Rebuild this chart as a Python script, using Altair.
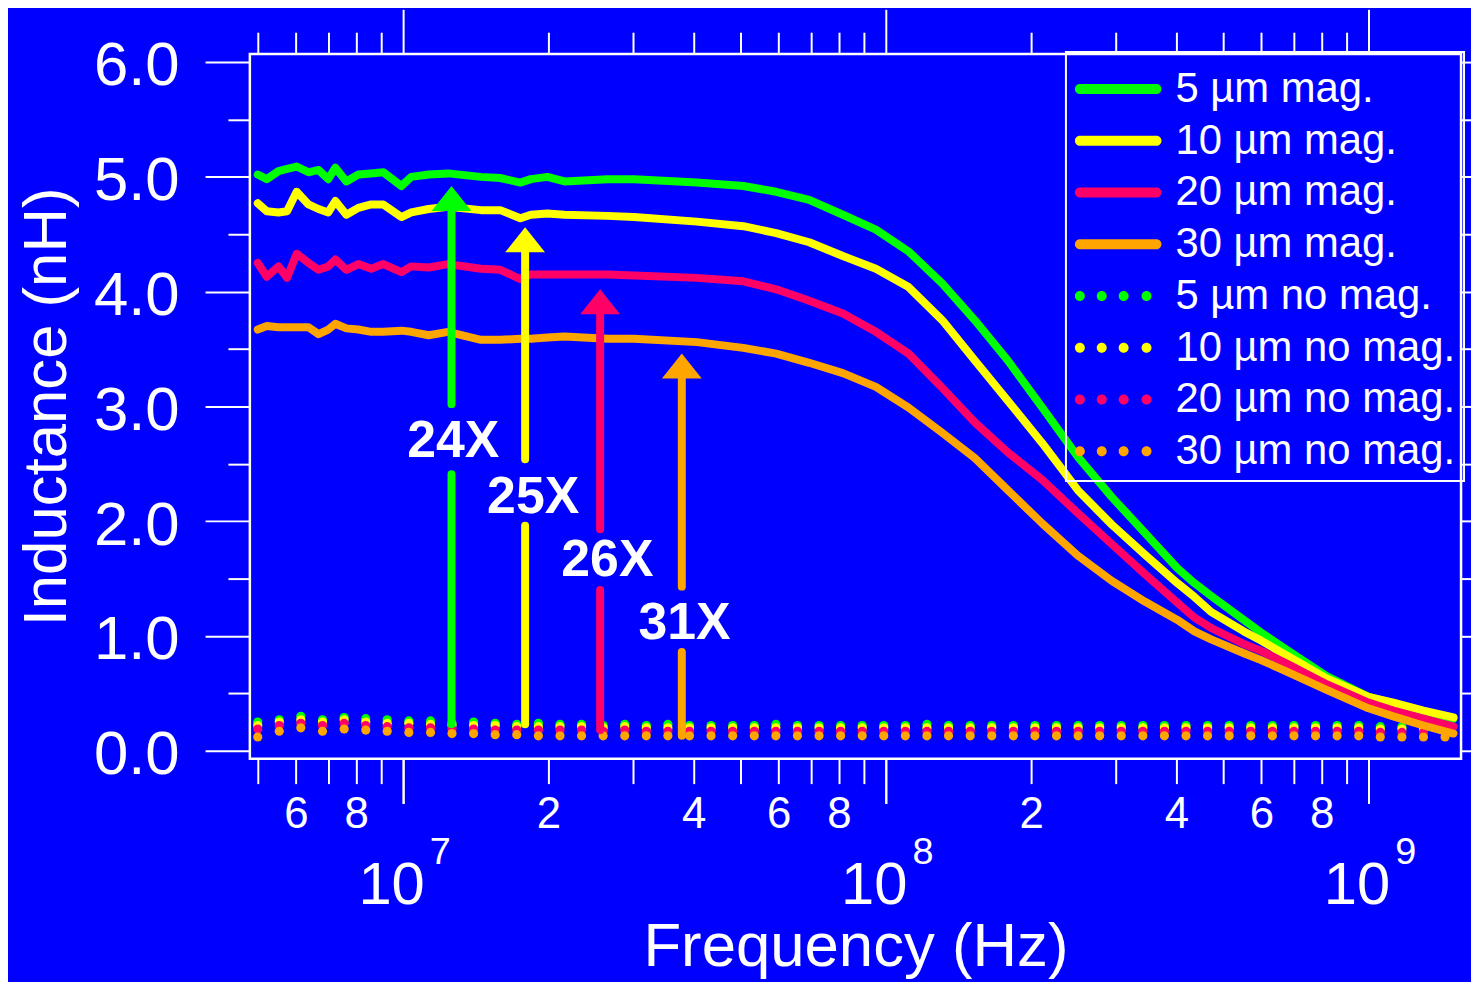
import altair as alt
import pandas as pd

FONT = "Liberation Sans"
BG = "#0000FF"
GREEN, YELLOW, RED, ORANGE = "#00FF00", "#FFFF00", "#FF0066", "#FFA500"
COLORS = [GREEN, YELLOW, RED, ORANGE]

# ---------------- data: magnetic (solid lines), frequency in MHz ----------------
freq_mag = [5.0, 5.22, 5.52, 5.75, 6.02, 6.37, 6.68, 7.0, 7.24, 7.63,
            8.08, 8.59, 9.1, 9.92, 10.4, 11.3, 12.4, 14.5, 15.9, 17.5,
            18.4, 19.9, 21.6, 26.5, 30.1, 40.6, 50.7, 59.3, 69.4, 81.5,
            95.4, 111.5, 131, 153, 179, 211, 250, 294, 344, 402,
            436, 472, 552, 599, 677, 819, 1000, 1126, 1300, 1500]
L_5_mag = [5.02, 4.98, 5.05, 5.07, 5.09, 5.04, 5.06, 4.98, 5.08, 4.96,
           5.02, 5.03, 5.04, 4.92, 5.00, 5.02, 5.03, 5.00, 4.99, 4.95,
           4.98, 5.00, 4.96, 4.98, 4.98, 4.95, 4.92, 4.87, 4.80, 4.67,
           4.54, 4.35, 4.07, 3.75, 3.40, 2.99, 2.56, 2.21, 1.90, 1.59,
           1.46, 1.35, 1.14, 1.03, 0.88, 0.65, 0.47, 0.41, 0.34, 0.28]
L_10_mag = [4.77, 4.70, 4.69, 4.70, 4.87, 4.76, 4.72, 4.69, 4.79, 4.67,
            4.73, 4.76, 4.76, 4.65, 4.69, 4.72, 4.74, 4.71, 4.71, 4.64,
            4.67, 4.68, 4.67, 4.66, 4.65, 4.61, 4.57, 4.51, 4.43, 4.31,
            4.20, 4.04, 3.75, 3.40, 3.05, 2.68, 2.27, 1.97, 1.71, 1.46,
            1.34, 1.21, 1.04, 0.96, 0.83, 0.63, 0.47, 0.42, 0.35, 0.29]
L_20_mag = [4.25, 4.13, 4.22, 4.12, 4.33, 4.25, 4.19, 4.22, 4.28, 4.19,
            4.24, 4.20, 4.24, 4.17, 4.22, 4.21, 4.24, 4.20, 4.19, 4.11,
            4.15, 4.15, 4.15, 4.15, 4.14, 4.12, 4.09, 4.02, 3.92, 3.81,
            3.65, 3.46, 3.16, 2.86, 2.60, 2.36, 2.07, 1.80, 1.54, 1.29,
            1.16, 1.07, 0.93, 0.87, 0.76, 0.58, 0.42, 0.35, 0.28, 0.21]
L_30_mag = [3.67, 3.70, 3.69, 3.69, 3.69, 3.69, 3.63, 3.67, 3.72, 3.68,
            3.67, 3.65, 3.65, 3.66, 3.65, 3.62, 3.65, 3.58, 3.58, 3.59,
            3.59, 3.60, 3.61, 3.59, 3.59, 3.56, 3.51, 3.46, 3.38, 3.29,
            3.17, 2.99, 2.77, 2.55, 2.27, 1.98, 1.70, 1.48, 1.30, 1.14,
            1.04, 0.97, 0.85, 0.79, 0.69, 0.53, 0.37, 0.30, 0.22, 0.15]

# ---------------- data: no magnetic (dotted), frequency in MHz ----------------
freq_nomag = [5.00, 5.54, 6.14, 6.81, 7.55, 8.37, 9.27, 10.28, 11.40, 12.63,
              14.00, 15.52, 17.20, 19.07, 21.14, 23.43, 25.97, 28.79, 31.91, 35.37,
              39.21, 43.46, 48.18, 53.41, 59.20, 65.62, 72.74, 80.63, 89.37, 99.05,
              109.8, 121.7, 134.9, 149.6, 165.8, 183.8, 203.7, 225.8, 250.3, 277.4,
              307.5, 340.9, 377.8, 418.8, 464.2, 514.6, 570.4, 632.3, 700.9, 776.9,
              861.1, 954.6, 1058, 1173, 1300, 1441]
L_5_nomag = [0.25, 0.27, 0.30, 0.27, 0.29, 0.28, 0.27, 0.26, 0.26, 0.24,
             0.25, 0.24, 0.23, 0.24, 0.23, 0.23, 0.22, 0.23, 0.22, 0.23,
             0.22, 0.22, 0.22, 0.22, 0.23, 0.22, 0.22, 0.22, 0.22, 0.22,
             0.22, 0.23, 0.22, 0.22, 0.22, 0.22, 0.22, 0.22, 0.22, 0.22,
             0.22, 0.22, 0.22, 0.22, 0.22, 0.22, 0.22, 0.22, 0.22, 0.22,
             0.22, 0.22, 0.21, 0.21, 0.21, 0.21]
L_10_nomag = [0.22, 0.25, 0.27, 0.25, 0.27, 0.25, 0.24, 0.24, 0.23, 0.22,
              0.22, 0.22, 0.21, 0.21, 0.21, 0.21, 0.20, 0.21, 0.20, 0.20,
              0.20, 0.20, 0.20, 0.20, 0.20, 0.20, 0.20, 0.20, 0.20, 0.20,
              0.20, 0.20, 0.20, 0.20, 0.20, 0.20, 0.20, 0.20, 0.20, 0.20,
              0.20, 0.20, 0.20, 0.20, 0.20, 0.20, 0.20, 0.20, 0.20, 0.20,
              0.20, 0.20, 0.19, 0.19, 0.19, 0.19]
L_20_nomag = [0.19, 0.22, 0.24, 0.22, 0.24, 0.22, 0.21, 0.20, 0.20, 0.19,
              0.19, 0.18, 0.18, 0.18, 0.18, 0.18, 0.17, 0.18, 0.17, 0.17,
              0.17, 0.17, 0.17, 0.17, 0.17, 0.17, 0.17, 0.17, 0.17, 0.17,
              0.17, 0.17, 0.17, 0.17, 0.17, 0.17, 0.17, 0.17, 0.17, 0.17,
              0.17, 0.17, 0.17, 0.17, 0.17, 0.17, 0.17, 0.17, 0.17, 0.17,
              0.17, 0.17, 0.16, 0.16, 0.16, 0.16]
L_30_nomag = [0.12, 0.17, 0.20, 0.17, 0.19, 0.18, 0.17, 0.16, 0.16, 0.15,
              0.15, 0.14, 0.14, 0.13, 0.13, 0.13, 0.13, 0.13, 0.13, 0.13,
              0.13, 0.13, 0.13, 0.13, 0.13, 0.13, 0.13, 0.13, 0.13, 0.13,
              0.13, 0.13, 0.13, 0.13, 0.13, 0.13, 0.13, 0.13, 0.13, 0.13,
              0.13, 0.13, 0.13, 0.13, 0.13, 0.13, 0.13, 0.13, 0.13, 0.13,
              0.13, 0.13, 0.12, 0.12, 0.12, 0.12]

mag_labels = ["5 µm mag.", "10 µm mag.", "20 µm mag.", "30 µm mag."]
nomag_labels = ["5 µm no mag.", "10 µm no mag.", "20 µm no mag.", "30 µm no mag."]

# ---------------- arrows with enhancement factors ----------------
arrow_text = ["24X", "25X", "26X", "31X"]
arrow_freq = [12.6, 17.9, 25.6, 37.8]
arrow_tip = [4.92, 4.56, 4.02, 3.46]
shaft_top = [4.77, 4.41, 3.87, 3.31]
gap_top = [3.02, 2.54, 1.93, 1.43]
gap_bottom = [2.41, 1.96, 1.40, 0.86]
arrow_base = [0.23, 0.23, 0.18, 0.13]
text_freq = [12.7, 18.6, 26.5, 38.3]
text_L = [2.72, 2.24, 1.69, 1.14]

# axis tick positions (MHz) and inductance ticks
minor_f = [5, 6, 7, 8, 9, 20, 30, 40, 50, 60, 70, 80, 90,
           200, 300, 400, 500, 600, 700, 800, 900]
decade_f = [10, 100, 1000]
major_L = [0, 1, 2, 3, 4, 5, 6]
minor_L = [0.5, 1.5, 2.5, 3.5, 4.5, 5.5]
all_L = [0, 0.5, 1, 1.5, 2, 2.5, 3, 3.5, 4, 4.5, 5, 5.5, 6]

# ---------------- tables ----------------
mag_rows = []
for lab, col, vals in zip(mag_labels, COLORS, [L_5_mag, L_10_mag, L_20_mag, L_30_mag]):
    for f, v in zip(freq_mag, vals):
        mag_rows.append({"f": f, "L": v, "label": lab, "color": col})
mag_df = pd.DataFrame(mag_rows)

nomag_rows = []
for lab, col, vals in zip(nomag_labels, COLORS, [L_5_nomag, L_10_nomag, L_20_nomag, L_30_nomag]):
    for f, v in zip(freq_nomag, vals):
        nomag_rows.append({"f": f, "L": v, "label": lab, "color": col})
nomag_df = pd.DataFrame(nomag_rows)

shaft_rows = []
for i in range(4):
    shaft_rows.append({"f": arrow_freq[i], "y1": shaft_top[i], "y2": gap_top[i], "color": COLORS[i]})
    shaft_rows.append({"f": arrow_freq[i], "y1": gap_bottom[i], "y2": arrow_base[i], "color": COLORS[i]})
shaft_df = pd.DataFrame(shaft_rows)

arrow_df = pd.DataFrame({"f": arrow_freq, "tip": arrow_tip, "color": COLORS,
                         "tf": text_freq, "tL": text_L, "txt": arrow_text})

# legend symbols (custom shapes; unit = 28 px for symbolSize 3136)
all_labels = mag_labels + nomag_labels
all_colors = COLORS + COLORS
BAR = "M-0.82,-0.18L1.927,-0.18A0.18,0.18,0,0,1,1.927,0.18L-0.82,0.18A0.18,0.18,0,0,1,-0.82,-0.18Z"


def dots_path(centers, r=0.179):
    parts = []
    for c in centers:
        parts.append(f"M{c - r:.3f},0A{r},{r},0,1,0,{c + r:.3f},0A{r},{r},0,1,0,{c - r:.3f},0Z")
    return "".join(parts)


DOTS = dots_path([-0.821, -0.036, 0.75, 1.571])
all_shapes = [BAR] * 4 + [DOTS] * 4
legend_df = pd.DataFrame({"f": [1.0] * 8, "L": [3.0] * 8, "label": all_labels})

HEAD = "M0,0L1,1.25L-1,1.25Z"

# ---------------- scales & axes ----------------
x_scale = alt.Scale(type="log", domain=[4.8147, 1555.2], nice=False)
y_scale = alt.Scale(domain=[-0.0694, 6.0694], nice=False, zero=False)

common = dict(grid=False, domain=False, labelOverlap=False, labelFlush=False)

ax_bottom_minor = alt.Axis(orient="bottom", values=minor_f, tickSize=25,
                           labelExpr="indexof([6,8,20,40,60,80,200,400,600,800], datum.value) >= 0 ? substring(toString(datum.value),0,1) : ''",
                           labelFontSize=44, labelPadding=9, title=None, **common)
ax_bottom_major = alt.Axis(orient="bottom", values=decade_f, tickSize=45, labelExpr="'10'",
                           labelFontSize=60, labelPadding=53, labelOffset=-12,
                           title="Frequency (Hz)", titleFontSize=62, titleX=608.5, titleY=208,
                           titleBaseline="alphabetic", titleAlign="center", **common)
ax_bottom_sup = alt.Axis(orient="bottom", values=decade_f, tickSize=45,
                         labelExpr="datum.value == 10 ? '7' : datum.value == 100 ? '8' : '9'",
                         labelFontSize=38, labelPadding=30, labelOffset=37, title=None, **common)
ax_top_minor = alt.Axis(orient="top", values=minor_f, tickSize=22, labels=False, title=None, **common)
ax_top_major = alt.Axis(orient="top", values=decade_f, tickSize=45, labels=False, title=None, **common)

ax_left_major = alt.Axis(orient="left", values=major_L, tickSize=45, format=".1f",
                         labelFontSize=62, labelPadding=26, labelOffset=4,
                         title="Inductance (nH)", titleFontSize=62, titleX=-185, titleY=354,
                         titleAngle=-90, titleBaseline="alphabetic", titleAlign="center", **common)
ax_left_minor = alt.Axis(orient="left", values=minor_L, tickSize=22, labels=False, title=None, **common)
ax_right = alt.Axis(orient="right", values=all_L, tickSize=12, labels=False, title=None, **common)

# ---------------- layers ----------------
dots = alt.Chart(nomag_df).mark_circle(size=85, opacity=1).encode(
    x=alt.X("f:Q", scale=x_scale, axis=ax_bottom_minor),
    y=alt.Y("L:Q", scale=y_scale, axis=ax_left_major),
    color=alt.Color("color:N", scale=None),
)

lines = alt.Chart(mag_df).mark_line(strokeWidth=8, strokeCap="round", strokeJoin="round").encode(
    x=alt.X("f:Q", scale=x_scale, axis=ax_bottom_major),
    y=alt.Y("L:Q", scale=y_scale, axis=ax_left_minor),
    color=alt.Color("color:N", scale=None),
    detail="label:N",
)

shafts = alt.Chart(shaft_df).mark_rule(strokeWidth=8, strokeCap="round").encode(
    x=alt.X("f:Q", scale=x_scale, axis=ax_top_minor),
    y=alt.Y("y1:Q", scale=y_scale, axis=ax_right),
    y2="y2:Q",
    color=alt.Color("color:N", scale=None),
)

heads = alt.Chart(arrow_df).mark_point(shape=HEAD, size=1600, filled=True, opacity=1, strokeWidth=0).encode(
    x=alt.X("f:Q", scale=x_scale, axis=ax_top_major),
    y=alt.Y("tip:Q", scale=y_scale, axis=None),
    color=alt.Color("color:N", scale=None),
)

texts = alt.Chart(arrow_df).mark_text(fontSize=52, fontWeight="bold", font=FONT, color="white", dy=3).encode(
    x=alt.X("tf:Q", scale=x_scale, axis=ax_bottom_sup),
    y=alt.Y("tL:Q", scale=y_scale, axis=None),
    text="txt:N",
)

leg = alt.Legend(orient="none", legendX=820, legendY=-2, title=None, direction="vertical",
                 labelFontSize=42, labelColor="white", labelFont=FONT, labelLimit=600,
                 symbolSize=3136, symbolStrokeWidth=0, symbolOpacity=1,
                 labelOffset=45, rowPadding=3, padding=9, strokeColor="white")

legend_layer = alt.Chart(legend_df).mark_point(size=3136, filled=True, opacity=1, strokeWidth=0, clip=True).encode(
    x=alt.X("f:Q", scale=x_scale, axis=None),
    y=alt.Y("L:Q", scale=y_scale, axis=None),
    color=alt.Color("label:N", scale=alt.Scale(domain=all_labels, range=all_colors), legend=leg),
    shape=alt.Shape("label:N", scale=alt.Scale(domain=all_labels, range=all_shapes), legend=leg),
)

chart = (
    alt.layer(dots, lines, shafts, heads, texts, legend_layer)
    .resolve_axis(x="independent", y="independent")
    .resolve_scale(color="independent", shape="independent")
    .properties(
        width=1217, height=708,
        autosize=alt.AutoSizeParams(type="none"),
        padding={"left": 243, "top": 44, "right": 10, "bottom": 222},
        background=BG,
    )
    .configure_view(stroke="white", strokeWidth=2.5)
    .configure_axis(tickColor="white", tickWidth=2, labelColor="white", titleColor="white",
                    labelFont=FONT, titleFont=FONT, titleFontWeight="normal", labelFontWeight="normal")
    .configure_legend(strokeWidth=2)
)

chart.save("out.html", embed_options={"renderer": "svg", "actions": False})
